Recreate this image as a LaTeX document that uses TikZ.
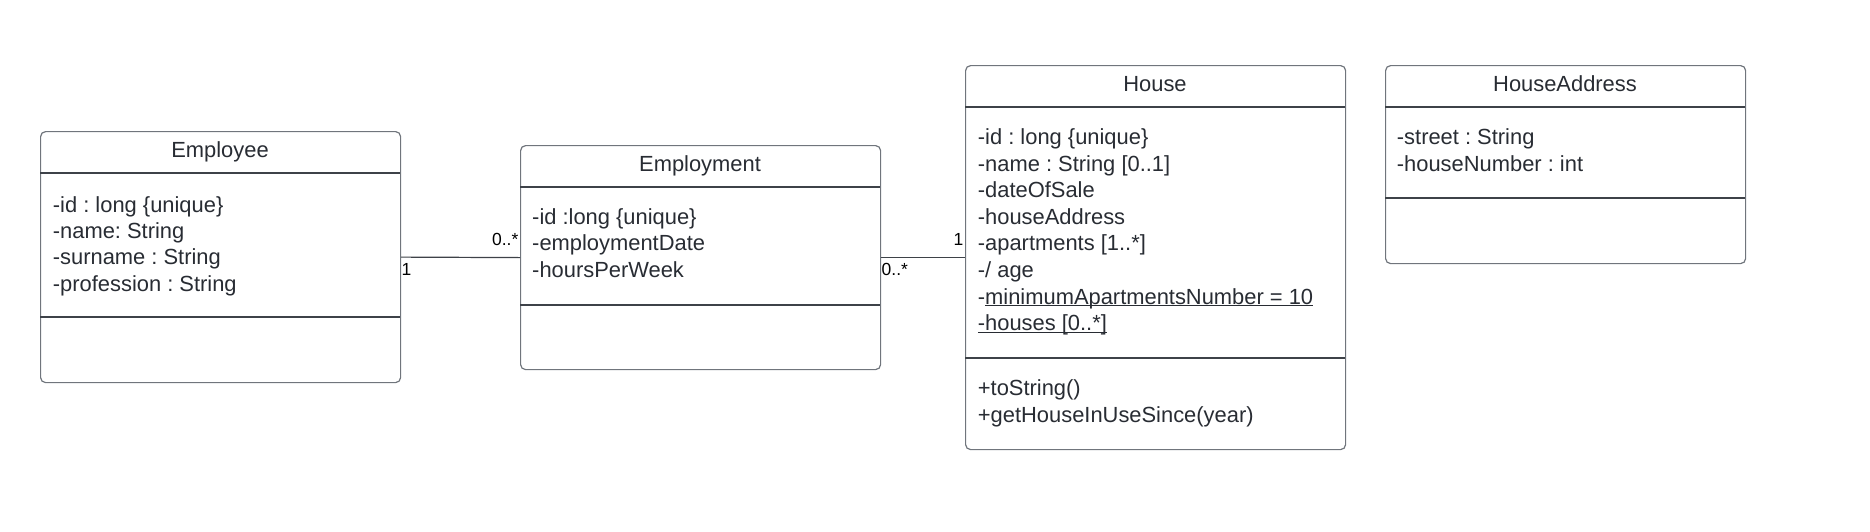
\documentclass[tikz,border=0pt]{standalone}
\usepackage{fontspec}
\setmainfont{Liberation Sans}
\frenchspacing
\definecolor{umltext}{RGB}{40,44,51}
\definecolor{umlborder}{RGB}{112,117,124}
\definecolor{umlline}{RGB}{62,66,72}
\tikzset{
  classbox/.style={draw=umlborder, line width=1.2pt, rounded corners=5pt,
    anchor=north west, inner sep=0pt},
  divider/.style={draw=umlline, line width=1.2pt},
  title/.style={anchor=base, inner sep=0pt, text=umltext,
    font=\fontsize{21.9}{26}\selectfont},
  attr/.style={anchor=base west, inner sep=0pt, text=umltext,
    font=\fontsize{21.9}{26}\selectfont},
  mult/.style={inner sep=0pt, text=black, font=\fontsize{17.5}{20}\selectfont},
  assoc/.style={draw=umlline, line width=1.2pt},
}
\begin{document}
\begin{tikzpicture}[x=1pt,y=-1pt]
    \useasboundingbox (0,0) rectangle (1870,531);

    % class boxes
    \node[classbox, minimum width=360pt, minimum height=251pt] (employee) at (40,131) {};
    \node[classbox, minimum width=360pt, minimum height=224pt] (employment) at (520,145) {};
    \node[classbox, minimum width=380pt, minimum height=384pt] (house) at (965,65) {};
    \node[classbox, minimum width=360pt, minimum height=198pt] (address) at (1385,65) {};

    \draw[divider] (40,173) -- (400,173);
    \draw[divider] (40,317) -- (400,317);
    \draw[divider] (520,187) -- (880,187);
    \draw[divider] (520,305) -- (880,305);
    \draw[divider] (965,107) -- (1345,107);
    \draw[divider] (965,358) -- (1345,358);
    \draw[divider] (1385,107) -- (1745,107);
    \draw[divider] (1385,198) -- (1745,198);

    % names
    \node[title] (employeeT) at (220,157.3) {Employee};
    \node[title] (employmentT) at (700,171) {Employment};
    \node[title] (houseT) at (1155,91.3) {House};
    \node[title] (addressT) at (1565,91.3) {HouseAddress};

    % attributes
    \foreach \t [count=\i from 0] in {-id : long \{unique\}, -name: String,
      -surname : String, -profession : String}
      \node[attr] (employeeA\i) at (52.7,212.5+26.2*\i) {\t};

    \foreach \t [count=\i from 0] in {-id :long \{unique\}, -employmentDate,
      -hoursPerWeek}
      \node[attr] (employmentA\i) at (532,224+26.6*\i) {\t};

    \foreach \t [count=\i from 0] in {-id : long \{unique\}, -name : String [0..1],
      -dateOfSale, -houseAddress, -apartments [1..*], -/ age,
      -\underline{\smash{minimumApartmentsNumber = 10}},
      \underline{\smash{-houses [0..*]}}}
      \node[attr] (houseA\i) at (977.7,144.5+26.6*\i) {\t};

    \foreach \t [count=\i from 0] in {+toString(), +getHouseInUseSince(year)}
      \node[attr] (houseM\i) at (977.7,395+27.3*\i) {\t};

    \foreach \t [count=\i from 0] in {-street : String, -houseNumber : int}
      \node[attr] (addressA\i) at (1396.7,144.5+26.6*\i) {\t};

    % associations
    \draw[assoc] (employee.east) -- (employment.west);
    \node[mult, anchor=base west] (employeeM) at (401.5,275) {1};
    \node[mult, anchor=base east] (employmentL) at (518.5,245) {0..*};

    \draw[assoc] (employment.east) -- (house.west);
    \node[mult, anchor=base west] (employmentR) at (881.5,275) {0..*};
    \node[mult, anchor=base east] (houseL) at (963.5,245) {1};
\end{tikzpicture}
\end{document}
